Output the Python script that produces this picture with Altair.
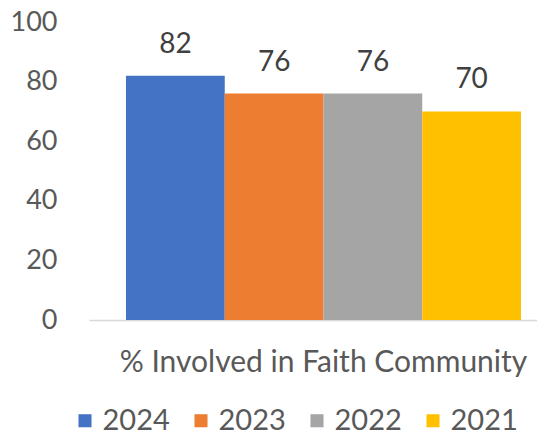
import altair as alt
import pandas as pd

years = ["2024", "2023", "2022", "2021"]
values = [82, 76, 76, 70]
category = "% Involved in Faith Community"
colors = ["#4472C4", "#ED7D31", "#A5A5A5", "#FFC000"]

df = pd.DataFrame({"cat": [category] * 4, "year": years, "value": values})

FONT = "Lato"

x = alt.X("cat:N", title=None,
          scale=alt.Scale(paddingInner=0, paddingOuter=0.0671, align=0.698),
          axis=alt.Axis(labelAngle=0, labelFontSize=30, labelColor="#595959",
                        labelFont=FONT, ticks=False, domainColor="#D9D9D9",
                        domainWidth=1.5, labelPadding=27, labelLimit=0))
xo = alt.XOffset("year:N", sort=years, scale=alt.Scale(paddingInner=0, paddingOuter=0))
y = alt.Y("value:Q", title=None,
          scale=alt.Scale(domain=[0, 100], nice=False),
          axis=alt.Axis(values=[0, 20, 40, 60, 80, 100], grid=False, domain=False,
                        ticks=False, labelFontSize=27, labelColor="#595959",
                        labelFont=FONT, labelPadding=32))

bars = alt.Chart(df).mark_bar().encode(
    x=x, xOffset=xo, y=y,
    color=alt.Color("year:N", sort=years,
                    scale=alt.Scale(domain=years, range=colors),
                    legend=alt.Legend(title=None, orient="none", direction="horizontal",
                                      legendX=-18.5, legendY=384, symbolType="square",
                                      symbolSize=170, symbolStrokeWidth=0,
                                      labelFontSize=29, labelFont=FONT,
                                      labelColor="#595959", columnPadding=16,
                                      labelOffset=3)),
)

labels = alt.Chart(df).mark_text(dy=-31, fontSize=28, font=FONT, color="#404040").encode(
    x=x, xOffset=xo, y=y, text=alt.Text("value:Q"))

chart = (bars + labels).properties(
    width=448, height=298,
    autosize=alt.AutoSizeParams(type="none"),
    padding={"left": 81, "top": 14, "right": 0, "bottom": 110},
).configure_view(stroke=None)

chart.save("out.html", embed_options={"renderer": "svg", "actions": False})
